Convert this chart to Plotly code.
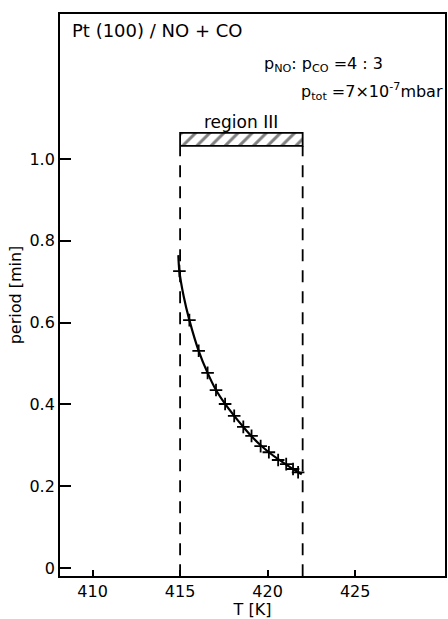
import plotly.graph_objects as go

# Measured points (T in K, period in min)
T_data = [414.96, 415.53, 416.06, 416.57, 417.05, 417.57, 418.09, 418.61,
          419.08, 419.60, 420.07, 420.60, 421.06, 421.45, 421.74]
period_data = [0.726, 0.606, 0.531, 0.477, 0.435, 0.401, 0.372, 0.345,
               0.323, 0.298, 0.283, 0.264, 0.254, 0.242, 0.234]

# Smooth guide curve
T_curve = [414.9, 414.96, 415.2, 415.53, 416.06, 416.57, 417.05, 417.57, 418.09,
           418.61, 419.08, 419.60, 420.07, 420.60, 421.06, 421.45, 421.95]
period_curve = [0.765, 0.726, 0.665, 0.606, 0.531, 0.477, 0.435, 0.401, 0.372,
                0.345, 0.322, 0.300, 0.283, 0.266, 0.253, 0.242, 0.229]

# Region III bounds
region_T = [415.0, 422.0]
region_bar = [1.032, 1.064]

x_ticks = [410, 415, 420, 425]
y_ticks = [0, 0.2, 0.4, 0.6, 0.8, 1.0]
y_tick_labels = ["0", "0.2", "0.4", "0.6", "0.8", "1.0"]

FONT = "DejaVu Sans"

fig = go.Figure()

# dashed region borders
for t in region_T:
    fig.add_trace(go.Scatter(x=[t, t], y=[-0.02, region_bar[0]], mode="lines",
                             line=dict(color="black", width=1.8, dash="12px,9px"),
                             showlegend=False, hoverinfo="skip"))

# hatched bar
fig.add_trace(go.Scatter(
    x=[region_T[0], region_T[1], region_T[1], region_T[0], region_T[0]],
    y=[region_bar[0], region_bar[0], region_bar[1], region_bar[1], region_bar[0]],
    mode="lines", fill="toself", fillcolor="white",
    fillpattern=dict(shape="/", fgcolor="black", bgcolor="white", size=10, solidity=0.3),
    line=dict(color="black", width=1.8), showlegend=False, hoverinfo="skip"))

# curve
fig.add_trace(go.Scatter(x=T_curve, y=period_curve, mode="lines",
                         line=dict(color="black", width=2.2, shape="spline"),
                         showlegend=False))
# data points
fig.add_trace(go.Scatter(x=T_data, y=period_data, mode="markers",
                         marker=dict(symbol="cross-thin", size=9,
                                     line=dict(color="black", width=1.8)),
                         showlegend=False))

fig.add_annotation(x=408.7, y=1.315, text="Pt (100) / NO + CO", showarrow=False,
                   xanchor="left", yanchor="middle", font=dict(family=FONT, size=18, color="black"))
fig.add_annotation(x=426.7, y=1.232, text="p<sub>NO</sub>: p<sub>CO</sub> =4 : 3", showarrow=False,
                   xanchor="right", yanchor="middle", font=dict(family=FONT, size=16, color="black"))
fig.add_annotation(x=421.8, y=1.166, text="p<sub>tot</sub> =7×10<sup>-7</sup>mbar", showarrow=False,
                   xanchor="left", yanchor="middle", font=dict(family=FONT, size=16, color="black"))
fig.add_annotation(x=418.5, y=1.09, text="region III", showarrow=False,
                   xanchor="center", yanchor="middle", font=dict(family=FONT, size=17, color="black"))

fig.update_layout(
    width=448, height=619,
    margin=dict(l=60, r=1, t=14, b=43),
    paper_bgcolor="white", plot_bgcolor="white",
    font=dict(family=FONT, size=16, color="black"),
    xaxis=dict(range=[408.14, 430.13], tickvals=x_ticks, ticks="inside", ticklen=6,
               tickwidth=1.6, tickcolor="black", showline=True, linecolor="black",
               linewidth=1.8, mirror=True, showgrid=False, zeroline=False,
               tickfont=dict(size=16),
               title=dict(text="T [K]", standoff=2, font=dict(size=16))),
    yaxis=dict(range=[-0.0196, 1.3545], tickvals=y_ticks, ticktext=y_tick_labels,
               ticks="inside", ticklen=11, tickwidth=1.6, tickcolor="black",
               showline=True, linecolor="black", linewidth=1.8, mirror=True,
               showgrid=False, zeroline=False, tickfont=dict(size=16),
               title=dict(text="period [min]", standoff=4, font=dict(size=16))),
)

fig.write_html("out.html")
